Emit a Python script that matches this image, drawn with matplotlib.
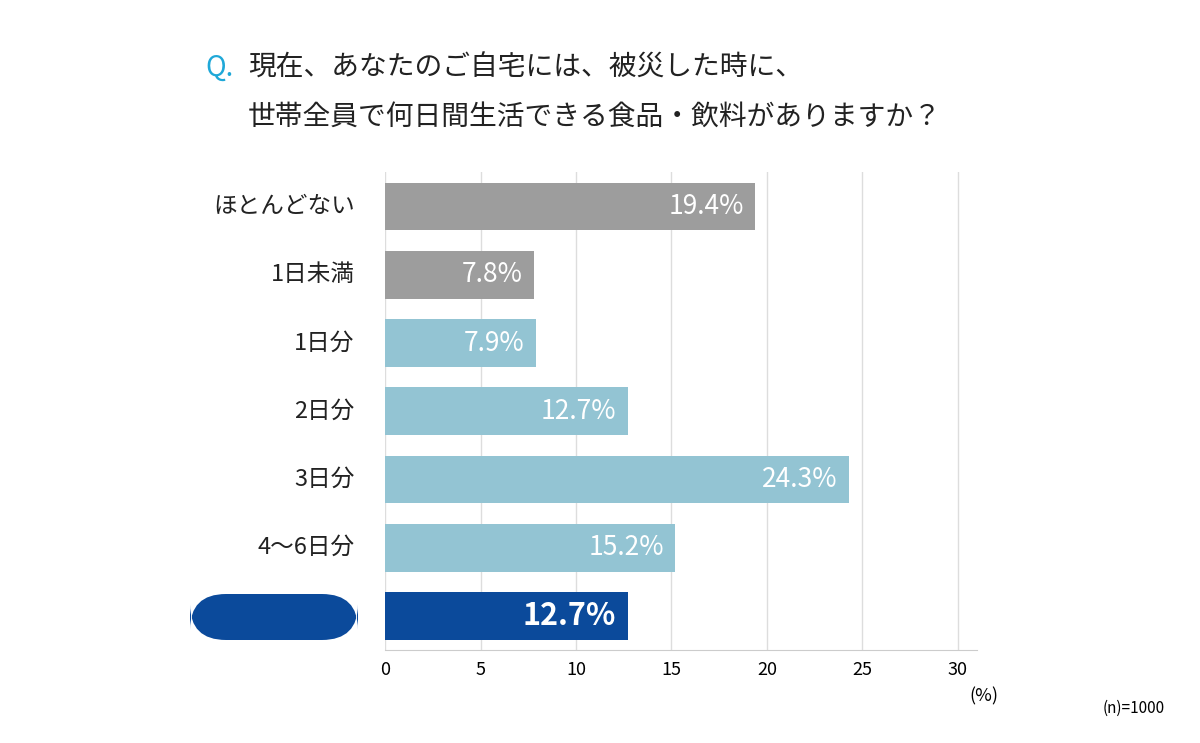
import matplotlib.pyplot as plt
from matplotlib.patches import FancyBboxPatch

plt.rcParams['font.family'] = ['Noto Sans CJK JP', 'DejaVu Sans']

categories = ["ほとんどない", "1日未満", "1日分", "2日分", "3日分", "4〜6日分", "7日分以上"]
values = [19.4, 7.8, 7.9, 12.7, 24.3, 15.2, 12.7]
colors = ["#9d9d9d", "#9d9d9d", "#93c4d3", "#93c4d3", "#93c4d3", "#93c4d3", "#0b4a9b"]
xticks = [0, 5, 10, 15, 20, 25, 30]

fig = plt.figure(figsize=(12, 7.43), dpi=100)
ax = fig.add_axes([0.321, 0.125, 0.493, 0.643])

y = list(range(len(categories)))
ax.barh(y, values, height=0.7, color=colors, zorder=3)
ax.set_ylim(len(categories) - 0.5, -0.5)
ax.set_xlim(0, 31)
ax.set_xticks(xticks)
ax.set_xticklabels([str(t) for t in xticks], fontsize=13)
ax.set_yticks([])
ax.grid(axis="x", color="#dddddd", lw=1, zorder=0)
for s in ["top", "right", "left"]:
    ax.spines[s].set_visible(False)
ax.spines["bottom"].set_color("#cccccc")
ax.tick_params(axis="x", length=0, pad=8)
ax.text(30.6, len(categories) - 0.5, "(%)", fontsize=13, va="top",
        ha="left", transform=ax.transData).set_position((30.6, 7.05))

for i, (c, v) in enumerate(zip(categories, values)):
    last = i == len(categories) - 1
    ax.text(v - 0.6, i, f"{v}%", ha="right", va="center", color="white",
            fontsize=22 if last else 19, fontweight="bold" if last else "normal", zorder=4)
    if last:
        ax.text(-1.4, i, c, ha="right", va="center", color="white", fontsize=18,
                zorder=5, clip_on=False)
        pill = FancyBboxPatch((190 / 1200, 594 / 743), 168 / 1200, 46 / 743,
                              boxstyle="round,pad=0,rounding_size=0.03",
                              transform=fig.transFigure, facecolor="#0b4a9b",
                              edgecolor="none", mutation_aspect=1.6)
        fig.patches.append(pill)
        pill.set_y(1 - 640 / 743)
    else:
        ax.text(-1.6, i, c, ha="right", va="center", color="#222222", fontsize=17)

fig.text(205 / 1200, 1 - 68 / 743, "Q.", color="#1fa8d8", fontsize=20, va="center")
fig.text(248 / 1200, 1 - 68 / 743, "現在、あなたのご自宅には、被災した時に、",
         fontsize=20, va="center", color="#222222")
fig.text(248 / 1200, 1 - 117 / 743, "世帯全員で何日間生活できる食品・飲料がありますか？",
         fontsize=20, va="center", color="#222222")
fig.text(1165 / 1200, 1 - 708 / 743, "(n)=1000", fontsize=11, ha="right", va="center")

fig.savefig("out.png", dpi=100)
